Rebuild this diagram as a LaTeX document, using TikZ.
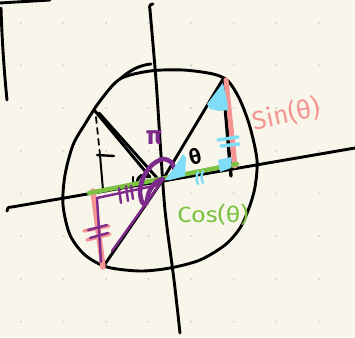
\documentclass[tikz,border=0pt]{standalone}
\usepackage{fontspec}
\setmainfont{Fira Sans}
\definecolor{bg}{HTML}{F8F6EA}
\definecolor{dotc}{HTML}{D6D6D6}
\definecolor{grn}{HTML}{7BC142}
\definecolor{pnk}{HTML}{F59593}
\definecolor{blu}{HTML}{80DDF8}
\definecolor{prp}{HTML}{7D2A8C}
\begin{document}
\begin{tikzpicture}[x=1pt,y=-1pt,
  blk/.style={draw=black,line width=2.9pt,line cap=round,line join=round},
  grnline/.style={draw=grn,line width=4.5pt,line cap=round},
  pnkline/.style={draw=pnk,line width=5pt,line cap=round},
  prpline/.style={draw=prp,line width=2.4pt,line cap=round,line join=round},
  bluline/.style={draw=blu,line width=3.5pt,line cap=round},
  blufill/.style={fill=blu},
  lbl/.style={inner sep=0pt,font=\fontsize{20}{22}\selectfont}]
\fill[bg] (0,0) rectangle (355,337);
\useasboundingbox (0,0) rectangle (355,337);
\foreach \i in {0,...,7} \foreach \j in {0,...,7}
  \fill[dotc] (20.7+42.6*\i,22.7+42.7*\j) circle (1.3);

% named points
\coordinate (O) at (162,181);
\coordinate (P) at (223,79);
\coordinate (Q) at (95,111);
\coordinate (R) at (103,267);
\coordinate (F) at (231,176);
\coordinate (G1) at (89,193);
\coordinate (G2) at (237,164);

% stray strokes top-left
\draw[blk] (0,3) .. controls (15,2) and (35,1) .. (50,0);
\draw[blk] (1,8) .. controls (2,40) and (4,70) .. (7,100);

% axes
\draw[blk] (7,211) .. controls (7,208) and (8,207) .. (12,207) -- (355,148);
\draw[blk] (153,4) .. controls (150,4) and (149,6) .. (150,10);
\draw[blk] plot[smooth] coordinates {(150,10) (156,80) (160,140) (165,210) (174,280) (180,333)};

% circle
\draw[blk] plot[smooth cycle] coordinates {(120,79) (150,71) (183,70) (213,74) (228,81) (240,100) (250,127) (257,160) (255,187) (249,208) (240,228) (225,245) (200,260) (170,268) (140,271) (107,267) (85,255) (70,235) (63,205) (65,175) (73,145) (85,124) (100,101)};
\draw[blk] (120,79) .. controls (130,70) and (140,65) .. (151,64);

% black radii
\draw[blk] (O) -- (P);
\draw[blk] (O) -- (R);
\draw[blk] (Q) -- (150,177);
\draw[blk] (99,113) -- (158,179);
\draw[blk,line width=1.8pt,dash pattern=on 6pt off 5pt] (96,117) -- (100,155);
\draw[blk,line width=2pt] (100,155) -- (103,190);
\draw[blk,line width=2.4pt] (97,155) -- (114,156);
\draw[blk,line width=2.2pt] (133,177) -- (133,184);
\draw[blk,line width=3pt] (137,182) .. controls (138,176) and (143,173) .. (148,177);
\draw[blk,line width=3.4pt] (223,82) -- (F);

% pink
\draw[pnkline] (226,80) -- (235,166);
\draw[pnkline,line width=5.5pt] (93,191) -- (R);
\draw[pnk,line width=3.5pt,line cap=round] (84,231) -- (109,226);
\draw[pnk,line width=3.5pt,line cap=round] (87,240) -- (110,234);

% green
\draw[grnline] (G1) -- (G2);

% purple
\draw[prpline] (97,198) -- (101,262);
\draw[prpline] (97,198) -- (158,185);
\draw[prpline] (O) -- (112,251);
\draw[prpline] (88,230) -- (107,225);
\draw[prpline] (90,238) -- (108,233);
\draw[prpline] (119,188) -- (121,203);
\draw[prpline] (126,186) -- (128,201);
\draw[prpline] (131,186) -- (133,199);
\draw[prp,line width=4.5pt,line cap=round,line join=round] plot[smooth] coordinates {(175,173) (172,163) (163,159) (152,165) (144,176) (140,190) (142,202) (146,204) (149,192) (156,182) (163,179)};
\node[lbl,text=prp,font=\fontsize{26}{28}\selectfont\bfseries] (pi) at (154,138) {π};

% blue
\fill[blufill] (223,83) -- (207,104) -- (210,109) -- (220,111) -- (228,110) -- (227,100) -- cycle;
\fill[blufill] (218,160) -- (231,157) -- (231,168) -- (220,172) -- cycle;
\fill[blufill] (165,180) -- (174,168) -- (183,154) -- (186,158) -- (185,176) -- (170,180) -- cycle;
\draw[bluline] (218,140) -- (238,137);
\draw[bluline] (221,146) -- (239,144);
\draw[blu,line width=2.4pt,line cap=round] (198,172) .. controls (196,176) and (196,180) .. (198,184);
\draw[blu,line width=2.4pt,line cap=round] (203,171) .. controls (201,175) and (201,179) .. (203,183);

% labels
\node[lbl,font=\fontsize{21}{22}\selectfont\bfseries,rotate=15] (theta) at (195,156) {θ};
\node[lbl,text=pnk,font=\fontsize{26}{28}\selectfont,rotate=12] (sin) at (286,114) {Sin(θ)};
\node[lbl,text=grn,font=\fontsize{22}{24}\selectfont,xscale=1.15,transform shape] (cos) at (213,215) {Cos(θ)};
\end{tikzpicture}
\end{document}
